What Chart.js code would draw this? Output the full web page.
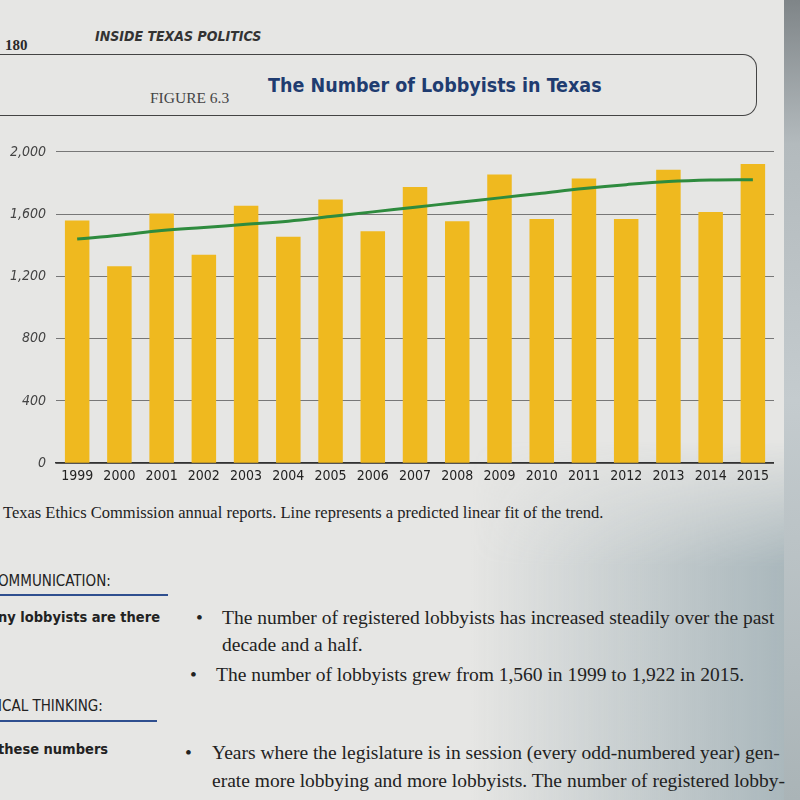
<!DOCTYPE html>
<html>
<head>
<meta charset="utf-8">
<script src="https://cdn.jsdelivr.net/npm/chart.js@4.4.1/dist/chart.umd.min.js"></script>
<style>
  body {
    margin: 0;
    width: 800px;
    height: 800px;
    overflow: hidden;
    position: relative;
    background: #e6e6e4;
    font-family: "Liberation Serif", serif;
    color: #2a2a2a;
  }
  .abs { position: absolute; white-space: nowrap; }
  .cond { font-family: "DejaVu Sans Condensed", "Liberation Sans", sans-serif; }
  #edge {
    position: absolute;
    left: 784px;
    top: 0;
    width: 16px;
    height: 800px;
    background: linear-gradient(to bottom, #7f8588 0%, #b3babd 18%, #c4cbce 50%, #aab4b7 100%);
  }
  #shade {
    position: absolute;
    left: 470px;
    top: 440px;
    width: 330px;
    height: 360px;
    background: linear-gradient(to right, rgba(150,168,175,0) 0%, rgba(150,168,175,0.35) 45%, rgba(140,160,168,0.7) 100%);
    -webkit-mask-image: linear-gradient(to bottom, transparent 0%, #000 35%, #000 100%);
    mask-image: linear-gradient(to bottom, transparent 0%, #000 35%, #000 100%);
  }
  #frame {
    position: absolute;
    left: -10px;
    top: 54px;
    width: 766px;
    height: 60px;
    border-top: 1.5px solid #444;
    border-bottom: 1.5px solid #444;
    border-right: 1.5px solid #444;
    border-radius: 0 14px 14px 0;
  }
  #chart-wrap {
    position: absolute;
    left: 0;
    top: 118px;
    width: 774px;
    height: 372px;
  }
  .rule { position: absolute; height: 2px; background: #2f4f8f; }
  .body-text { font-size: 19.5px; color: #222; }
</style>
</head>
<body>
<div id="shade"></div>
<div id="edge"></div>

<div class="abs" style="left:5px; top:37px; font-size:15px; font-weight:bold;">180</div>
<div class="abs cond" style="left:95px; top:28px; font-size:14px; font-weight:bold; font-style:italic; color:#333;">INSIDE TEXAS POLITICS</div>
<div id="frame"></div>
<div class="abs" style="left:150px; top:89px; font-size:15.5px; color:#444;">FIGURE 6.3</div>
<div class="abs cond" style="left:268px; top:74px; font-size:19.5px; font-weight:bold; color:#1f3c70;">The Number of Lobbyists in Texas</div>

<div class="abs" style="left:-104px; top:258px; transform:rotate(-90deg); font-size:12px; color:#444; font-style:italic;">Number of Lobbyists</div>

<div id="chart-wrap"><canvas id="lobby-chart"></canvas></div>

<div class="abs" style="left:3px; top:503px; font-size:16.5px; color:#222;">Texas Ethics Commission annual reports. Line represents a predicted linear fit of the trend.</div>

<div class="abs cond" style="left:-2px; top:572px; font-size:15px; color:#222;">OMMUNICATION:</div>
<div class="rule" style="left:0; top:594px; width:168px;"></div>
<div class="abs cond" style="left:-2px; top:609px; font-size:14.5px; font-weight:bold; color:#222;">ny lobbyists are there</div>
<div class="abs body-text" style="left:196px; top:607px;">•</div>
<div class="abs body-text" style="left:222px; top:607px;">The number of registered lobbyists has increased steadily over the past</div>
<div class="abs body-text" style="left:222px; top:634px;">decade and a half.</div>
<div class="abs body-text" style="left:190px; top:664px;">•</div>
<div class="abs body-text" style="left:216px; top:664px;">The number of lobbyists grew from 1,560 in 1999 to 1,922 in 2015.</div>

<div class="abs cond" style="left:-2px; top:697px; font-size:15px; color:#222;">ICAL THINKING:</div>
<div class="rule" style="left:0; top:720px; width:157px;"></div>
<div class="abs cond" style="left:-2px; top:741px; font-size:14.5px; font-weight:bold; color:#222;">these numbers</div>
<div class="abs body-text" style="left:185px; top:742px;">•</div>
<div class="abs body-text" style="left:212px; top:742px;">Years where the legislature is in session (every odd-numbered year) gen-</div>
<div class="abs body-text" style="left:212px; top:770px;">erate more lobbying and more lobbyists. The number of registered lobby-</div>

<script>
// values (1999 and 2015 match the text below it)
const years = ["1999", "2000", "2001", "2002", "2003", "2004", "2005", "2006", "2007",
    "2008", "2009", "2010", "2011", "2012", "2013", "2014", "2015"];
const lobbyists = [1560, 1265, 1605, 1340, 1655, 1455, 1695, 1490, 1775,
    1555, 1855, 1570, 1830, 1570, 1885, 1615, 1922];
const trend = [1440, 1465, 1495, 1515, 1535, 1555, 1585, 1615, 1645,
    1675, 1705, 1735, 1765, 1790, 1810, 1820, 1822];
const yTicks = [0, 400, 800, 1200, 1600, 2000];

const ctx = document.getElementById("lobby-chart").getContext("2d");

const lobbyChart = new Chart(ctx, {
    type: "bar",
    data: {
        labels: years,
        datasets: [
            {
                type: "line",
                label: "Trend",
                data: trend,
                borderColor: "#2e8b3e",
                borderWidth: 3,
                pointRadius: 0,
                tension: 0.4,
                fill: false,
                order: 0
            },
            {
                label: "Lobbyists",
                data: lobbyists,
                backgroundColor: "#efb91f",
                barPercentage: 0.58,
                categoryPercentage: 1,
                order: 1
            }
        ]
    },
    options: {
        responsive: true,
        maintainAspectRatio: false,
        animation: false,
        plugins: {
            legend: { display: false },
            tooltip: { enabled: false }
        },
        scales: {
            x: {
                grid: { display: false, drawTicks: false },
                border: { display: true, color: "#333", width: 1.5 },
                ticks: {
                    color: "#222",
                    padding: 5,
                    maxRotation: 0,
                    font: { family: "'DejaVu Sans Condensed', sans-serif", size: 14 }
                }
            },
            y: {
                min: 0,
                max: 2100,
                afterBuildTicks: axis => {
                    axis.ticks = yTicks.map(v => ({ value: v }));
                },
                grid: { color: "#777", lineWidth: 1, drawTicks: false },
                border: { display: false },
                ticks: {
                    color: "#444",
                    padding: 10,
                    font: { family: "'DejaVu Sans Condensed', sans-serif", size: 14, style: "italic" },
                    callback: value => value.toLocaleString("en-US")
                }
            }
        }
    }
});
</script>
</body>
</html>
